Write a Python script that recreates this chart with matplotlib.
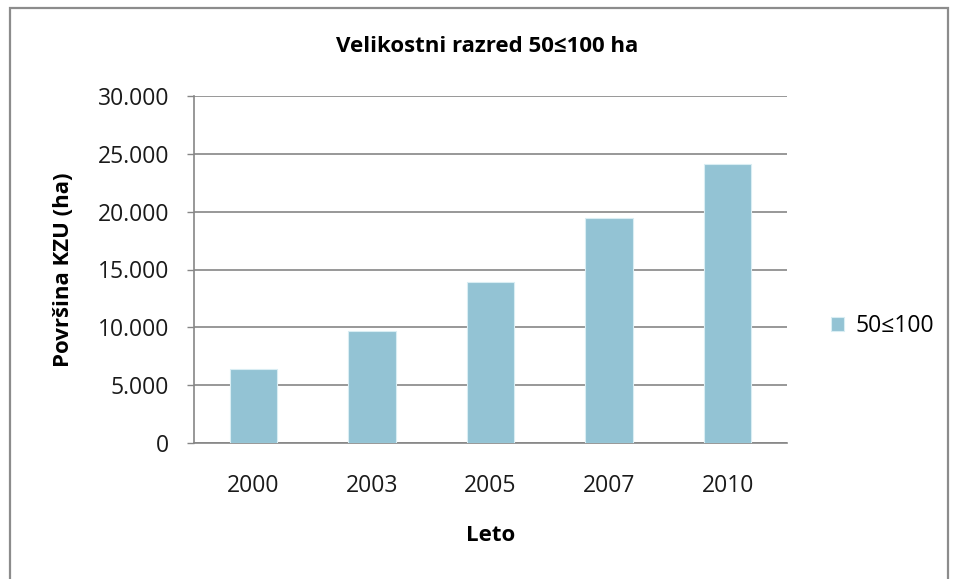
import matplotlib
matplotlib.use("Agg")
import matplotlib.pyplot as plt
from matplotlib.patches import Rectangle

years = ["2000", "2003", "2005", "2007", "2010"]
area = [6380, 9710, 13940, 19420, 24120]
series_name = "50≤100"
yticks = [0, 5000, 10000, 15000, 20000, 25000, 30000]
ytick_labels = ["0", "5.000", "10.000", "15.000", "20.000", "25.000", "30.000"]

plt.rcParams['font.family'] = ['Open Sans', 'DejaVu Sans']

W, H = 959, 579
fig = plt.figure(figsize=(W / 100, H / 100), dpi=100)
fig.patch.set_facecolor("white")

# outer chart border
fig.patches.append(Rectangle((10 / W, -0.05), 938 / W, 1.05 - 8 / H,
                             transform=fig.transFigure, fill=False,
                             edgecolor="#8c8c8c", lw=1.6))

ax = fig.add_axes([194 / W, (H - 443) / H, 593 / W, 347 / H])
x = range(len(years))
ax.bar(x, area, width=0.4, color="#93C3D4", edgecolor="#d9edf3", lw=0.8,
       label=series_name, zorder=3)

ax.set_xlim(-0.5, len(years) - 0.5)
ax.set_ylim(0, 30000)
ax.set_yticks(yticks)
ax.set_yticklabels(ytick_labels, fontsize=16.5, color="#1a1a1a")
ax.set_xticks(list(x))
ax.set_xticklabels(years, fontsize=16.5, color="#1a1a1a")
ax.tick_params(axis="x", length=0, pad=22)
ax.tick_params(axis="y", length=5, width=1, color="#868686", pad=13)
ax.yaxis.grid(True, color="#868686", lw=1.2, zorder=0)
for s in ["top", "right"]:
    ax.spines[s].set_visible(False)
ax.spines["left"].set_color("#868686")
ax.spines["bottom"].set_color("#868686")
ax.spines["left"].set_linewidth(1.2)
ax.spines["bottom"].set_linewidth(1.2)

ax.set_xlabel("Leto", fontsize=16, fontweight="bold", labelpad=20)
ax.set_ylabel("Površina KZU (ha)", fontsize=16, fontweight="bold", labelpad=17)

fig.text(487 / W, 1 - 47 / H, "Velikostni razred 50≤100 ha", ha="center",
         va="center", fontsize=16, fontweight="bold")

leg = ax.legend(loc="center left", bbox_to_anchor=(810 / W, 1 - 326 / H),
                bbox_transform=fig.transFigure, frameon=False, fontsize=16.5,
                handlelength=0.6, handleheight=0.6, handletextpad=0.5)

fig.savefig("out.png", dpi=100)
